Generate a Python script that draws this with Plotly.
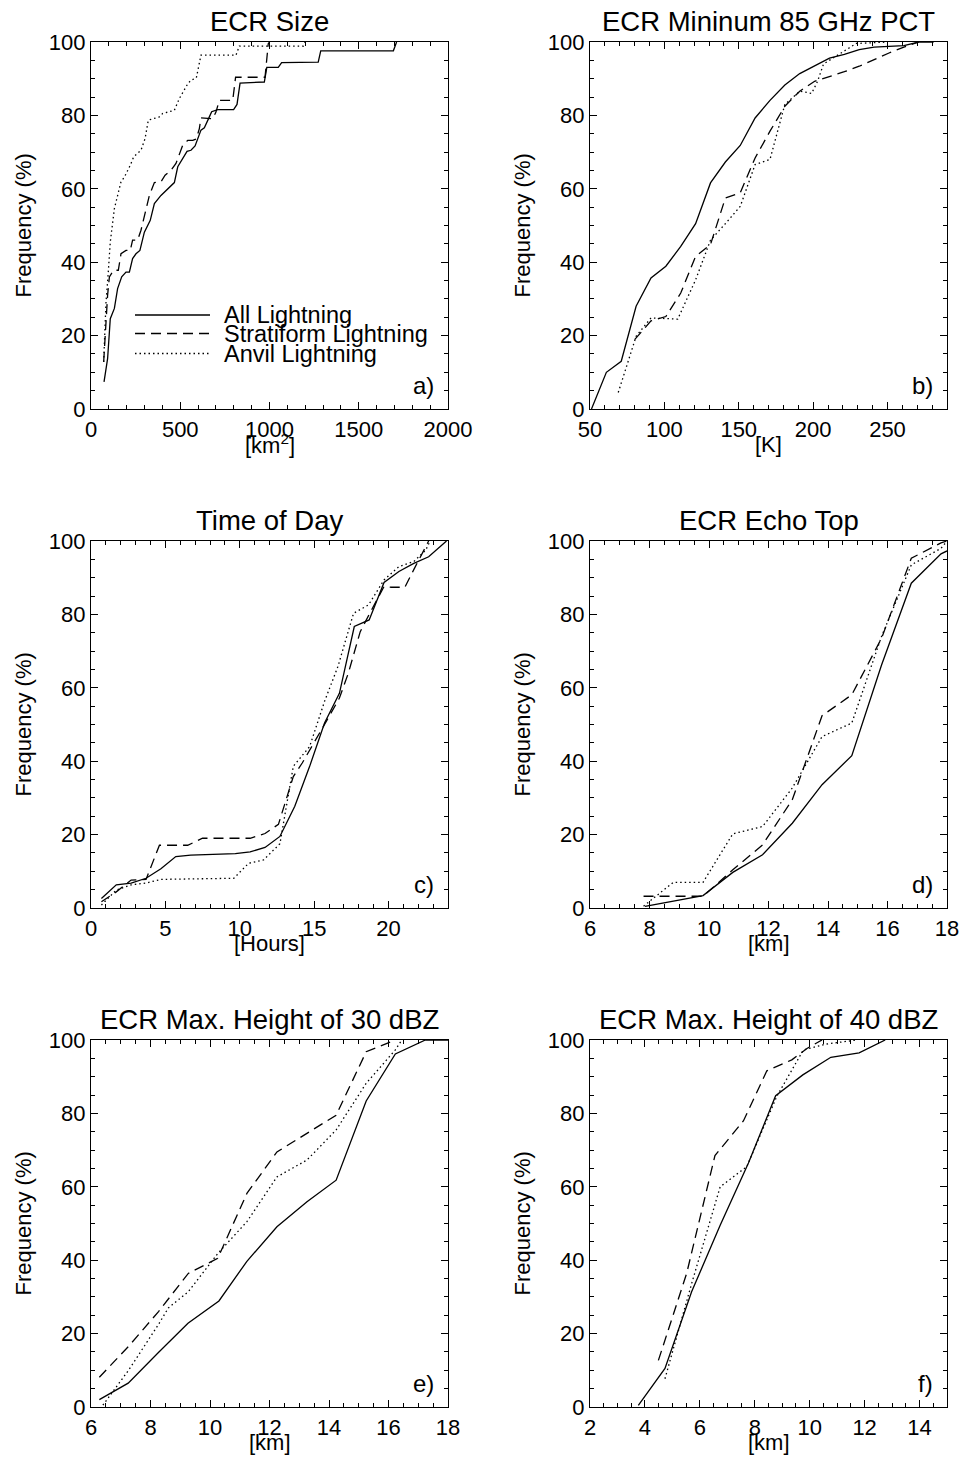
import plotly.graph_objects as go

# ---------------- data ----------------
# a) ECR Size [km^2]
a_all_x = [73, 93, 108, 131, 149, 172, 196, 215, 233, 252, 274, 286, 299, 332, 355, 392, 433, 467, 486, 514,
           538, 560, 583, 616, 635, 663, 676, 710, 799, 818, 835, 971, 985, 1049, 1068, 1273, 1287, 1694, 1712]
a_all_y = [7.4, 13.7, 24.6, 27.4, 32.8, 36, 37.3, 37.3, 41, 42.3, 43.2, 45.5, 48.2, 51.4, 56, 58.2, 60, 61.7, 66, 68.2,
           70.2, 70.5, 71.7, 76, 76.6, 79.6, 81, 81.6, 81.6, 83, 88.8, 89.1, 93.1, 93.1, 94.4, 94.5, 97.6, 97.6, 100]
a_strat_x = [71, 84, 93, 103, 127, 153, 168, 196, 220, 233, 261, 280, 299, 327, 355, 392, 415, 448, 476, 514,
             542, 570, 590, 607, 616, 663, 682, 700, 719, 794, 810, 975, 984, 993, 1000]
a_strat_y = [12.8, 24.6, 31, 36, 37.8, 37.8, 42.3, 43.2, 43.2, 46, 46, 48.7, 52.8, 58.2, 61.7, 61.9, 63.7, 65, 66.9, 71.9,
             73.2, 73.2, 73.6, 76.4, 79.3, 79.3, 79.1, 80.9, 84.1, 84.1, 90.4, 90.4, 95.2, 99.5, 100]
a_anvil_x = [71, 84, 95, 108, 131, 168, 187, 220, 239, 280, 303, 321, 383, 401, 467, 495, 542, 560, 590, 616,
             812, 831, 1190, 1200]
a_anvil_y = [12.8, 29, 36, 45.5, 54.6, 61.9, 63.2, 66.4, 68.7, 70.5, 73.7, 78.7, 79.6, 80.5, 81.4, 84.6, 88.6, 89.6, 90.2, 96.4,
             96.4, 98.9, 98.9, 100]

# b) ECR Minimum 85 GHz PCT [K]
b_all_x = [51, 61, 71, 81, 91, 101, 111, 121, 131, 141, 151, 161, 171, 181, 191, 201, 211, 221, 231, 241, 251, 261, 271, 281]
b_all_y = [0, 10, 13, 28, 35.7, 38.9, 44.3, 50.5, 61.6, 67.3, 71.8, 79.3, 84.1, 88.3, 91.4, 93.5, 95.6, 96.6, 97.9, 98.6,
           98.8, 99, 100, 100]
b_strat_x = [80, 91, 101, 111, 121, 131, 141, 151, 161, 171, 181, 191, 201, 206, 221, 231, 241, 251, 261, 271]
b_strat_y = [18.9, 24, 25.2, 31.6, 41.6, 44.8, 57.5, 58.9, 68.4, 75.7, 82.5, 86.6, 89.3, 89.9, 91.9, 93.4, 95.3, 97, 98.6, 100]
b_anvil_x = [69, 81, 91, 101, 109, 121, 131, 141, 151, 161, 171, 181, 191, 199, 203, 207, 221, 229, 240, 250]
b_anvil_y = [4.5, 19.8, 24.8, 24.6, 24.5, 35.2, 46, 50.5, 55.2, 66.6, 68, 83, 86.6, 86, 89.3, 94, 97.5, 99.6, 99.8, 100]

# c) Time of Day [Hours]
c_all_x = [0.7, 1.7, 2.7, 3.7, 4.7, 5.7, 6.7, 7.7, 8.7, 9.7, 10.7, 11.7, 12.7, 13.7, 14.7, 15.7, 16.7, 17.7, 18.7,
           19.7, 20.7, 21.7, 22.7, 23.9]
c_all_y = [2.6, 6.3, 6.8, 8.1, 10.7, 14.0, 14.4, 14.6, 14.7, 14.8, 15.3, 16.5, 19.5, 27.7, 38.6, 50.4, 58.5, 76.7, 78.5,
           88.7, 91.7, 93.9, 95.7, 100]
c_strat_x = [0.7, 1.7, 2.7, 3.7, 4.6, 6.5, 7.5, 10.7, 11.7, 12.6, 13.6, 14.2, 15.7, 16.7, 17.3, 18.1, 18.7, 19.7, 20.2,
             21.1, 21.7, 22.3, 22.7]
c_strat_y = [1.7, 4.4, 7.6, 7.8, 17.1, 17.1, 19, 19, 20.3, 22.8, 35.8, 39.5, 50, 57.2, 64, 75.3, 80, 87.6, 87.4,
             87.4, 92.2, 97, 100]
c_anvil_x = [0.7, 1.7, 2.7, 3.7, 4.7, 9.6, 10.6, 11.6, 12.7, 13.6, 14.7, 15.7, 16.6, 17.65, 18.66, 19.7, 20.7, 21.7, 22.5, 22.8]
c_anvil_y = [0.8, 4.9, 6.3, 6.8, 7.8, 8.1, 12.2, 13.1, 17.5, 38.6, 44, 56.3, 65.8, 80.3, 82.6, 89.4, 93, 94.4, 97.5, 100]

# d) ECR Echo Top [km]
d_all_x = [7.85, 8.8, 9.8, 10.8, 11.8, 12.8, 13.8, 14.8, 15.8, 16.8, 17.8, 18.0]
d_all_y = [0.45, 1.8, 3.4, 9.7, 14.5, 23.1, 33.6, 41.5, 66.2, 88.5, 96.5, 97.3]
d_strat_x = [7.8, 9.8, 10.8, 11.8, 12.8, 13.8, 14.8, 15.8, 16.8, 17.8, 18.0]
d_strat_y = [3.2, 3.2, 10.4, 17.2, 29.5, 52.4, 58.1, 73.5, 95.3, 99.5, 100]
d_anvil_x = [7.8, 8.8, 9.8, 10.8, 11.8, 12.8, 13.8, 14.8, 15.8, 16.8, 17.8, 18.0]
d_anvil_y = [0.5, 7, 7, 20.2, 22.2, 32.7, 46.7, 50.4, 74, 93.5, 98, 100]

# e) ECR Max. Height of 30 dBZ [km]
e_all_x = [6.28, 7.25, 8.25, 9.26, 10.3, 11.24, 12.25, 13.26, 14.24, 15.25, 16.23, 17.24, 18.0]
e_all_y = [2.0, 6.5, 14.7, 22.8, 28.9, 39.7, 49.1, 55.9, 61.8, 83.4, 96.2, 100, 100]
e_strat_x = [6.28, 7.26, 8.27, 9.27, 10.26, 11.24, 12.25, 13.26, 14.24, 15.25, 16.23]
e_strat_y = [8.1, 16.5, 26, 36.4, 40.5, 58.2, 69.5, 74.5, 79.5, 96.8, 100]
e_anvil_x = [6.4, 7.26, 8.27, 8.6, 9.27, 10.26, 11.24, 12.25, 13.26, 14.24, 15.25, 16.23, 16.45]
e_anvil_y = [0.5, 10, 22.5, 27, 31.4, 41.8, 50.5, 62.7, 67.3, 75.5, 88.2, 97.3, 100]

# f) ECR Max. Height of 40 dBZ [km]
f_all_x = [3.76, 4.73, 5.7, 6.74, 7.77, 8.76, 9.75, 10.77, 11.8, 12.75]
f_all_y = [0.45, 10.5, 31.4, 49.5, 66.5, 84.8, 90.5, 95.3, 96.5, 100]
f_strat_x = [4.49, 5.52, 6.55, 7.59, 8.44, 9.35, 9.9, 10.45]
f_strat_y = [12.7, 36.4, 68.5, 78, 91.6, 94.6, 97.7, 100]
f_anvil_x = [4.73, 5.7, 6.74, 7.71, 8.8, 9.77, 10.6, 11.72]
f_anvil_y = [7.7, 33.6, 60, 65.5, 84.6, 97.3, 98.9, 100]

series_names = ["All Lightning", "Stratiform Lightning", "Anvil Lightning"]
panel_titles = ["ECR Size", "ECR Mininum 85 GHz PCT", "Time of Day", "ECR Echo Top",
                "ECR Max. Height of 30 dBZ", "ECR Max. Height of 40 dBZ"]
x_titles = ["[km<sup>2</sup>]", "[K]", "[Hours]", "[km]", "[km]", "[km]"]
panel_letters = ["a)", "b)", "c)", "d)", "e)", "f)"]
x_ranges = [[0, 2000], [50, 290], [0, 24], [6, 18], [6, 18], [2, 15]]
x_dticks = [500, 50, 5, 2, 2, 2]
x_minor = [100, 10, 1, 0.5, 0.5, 0.5]
x_tick0 = [0, 50, 0, 6, 6, 2]
y_ticks = [0, 20, 40, 60, 80, 100]

data = [
    (a_all_x, a_all_y, a_strat_x, a_strat_y, a_anvil_x, a_anvil_y),
    (b_all_x, b_all_y, b_strat_x, b_strat_y, b_anvil_x, b_anvil_y),
    (c_all_x, c_all_y, c_strat_x, c_strat_y, c_anvil_x, c_anvil_y),
    (d_all_x, d_all_y, d_strat_x, d_strat_y, d_anvil_x, d_anvil_y),
    (e_all_x, e_all_y, e_strat_x, e_strat_y, e_anvil_x, e_anvil_y),
    (f_all_x, f_all_y, f_strat_x, f_strat_y, f_anvil_x, f_anvil_y),
]

# ---------------- styling / layout ----------------
W, H = 963, 1467
FONT = "Liberation Sans, Arial, Helvetica, sans-serif"
DASHES = ["solid", "10px,6px", "1.5px,3px"]
LW = 1.3
cols_px = [(91, 448), (590, 947)]
rows_px = [(42, 409), (541, 908), (1040, 1407)]

fig = go.Figure()
annotations = []
shapes = []

for i, d in enumerate(data):
    r, c = divmod(i, 2)
    n = i + 1
    sfx = "" if n == 1 else str(n)
    xd = [cols_px[c][0] / W, cols_px[c][1] / W]
    yd = [1 - rows_px[r][1] / H, 1 - rows_px[r][0] / H]
    common = dict(showline=True, linecolor="black", linewidth=LW, mirror="allticks",
                  ticks="inside", ticklen=7, tickwidth=1, tickcolor="black",
                  showgrid=False, zeroline=False, automargin=False,
                  tickfont=dict(family=FONT, size=22, color="black"))
    fig.layout["xaxis" + sfx] = dict(common, domain=xd, anchor="y" + sfx, range=x_ranges[i],
                                     tick0=x_tick0[i], dtick=x_dticks[i],
                                     minor=dict(ticks="inside", ticklen=4, tickwidth=1, tickcolor="black",
                                                tick0=x_tick0[i], dtick=x_minor[i], showgrid=False))
    fig.layout["yaxis" + sfx] = dict(common, domain=yd, anchor="x" + sfx, range=[0, 100],
                                     tickvals=y_ticks,
                                     minor=dict(ticks="inside", ticklen=4, tickwidth=1, tickcolor="black",
                                                tick0=0, dtick=5, showgrid=False))
    for k in range(3):
        fig.add_trace(go.Scatter(x=d[2 * k], y=d[2 * k + 1], mode="lines", name=series_names[k],
                                 showlegend=False, xaxis="x" + sfx, yaxis="y" + sfx,
                                 line=dict(color="black", width=LW, dash=DASHES[k])))
    xc = (xd[0] + xd[1]) / 2
    # panel title
    annotations.append(dict(text=panel_titles[i], x=xc, y=yd[1], xref="paper", yref="paper",
                            xanchor="center", yanchor="bottom", yshift=3, showarrow=False,
                            font=dict(family=FONT, size=27.5, color="black")))
    # y title
    annotations.append(dict(text="Frequency (%)", x=(cols_px[c][0] - 68) / W, y=(yd[0] + yd[1]) / 2,
                            xref="paper", yref="paper", xanchor="center", yanchor="middle",
                            textangle=-90, showarrow=False,
                            font=dict(family=FONT, size=22, color="black")))
    # x title
    annotations.append(dict(text=x_titles[i], x=xc, y=1 - (rows_px[r][1] + 35) / H,
                            xref="paper", yref="paper", xanchor="center", yanchor="middle",
                            showarrow=False, font=dict(family=FONT, size=22, color="black")))
    # panel letter
    annotations.append(dict(text=panel_letters[i], x=1, y=0, xref="x" + sfx + " domain",
                            yref="y" + sfx + " domain", xanchor="right", yanchor="middle",
                            xshift=-12, yshift=24, showarrow=False,
                            font=dict(family=FONT, size=24, color="black")))

# legend inside panel a (drawn with shapes + text)
leg_y_px = [315, 333.5, 353.5]
for k in range(3):
    yy = 1 - leg_y_px[k] / H
    shapes.append(dict(type="line", xref="paper", yref="paper", x0=135 / W, x1=210 / W, y0=yy, y1=yy,
                       line=dict(color="black", width=LW, dash=DASHES[k])))
    annotations.append(dict(text=series_names[k], x=222 / W, y=yy, xref="paper", yref="paper",
                            xanchor="left", yanchor="middle", showarrow=False,
                            font=dict(family=FONT, size=23.5, color="black")))

fig.update_layout(template="none", width=W, height=H, margin=dict(l=0, r=0, t=0, b=0, autoexpand=False),
                  paper_bgcolor="white", plot_bgcolor="white", showlegend=False,
                  annotations=annotations, shapes=shapes,
                  font=dict(family=FONT, color="black"))

fig.write_html("out.html")
